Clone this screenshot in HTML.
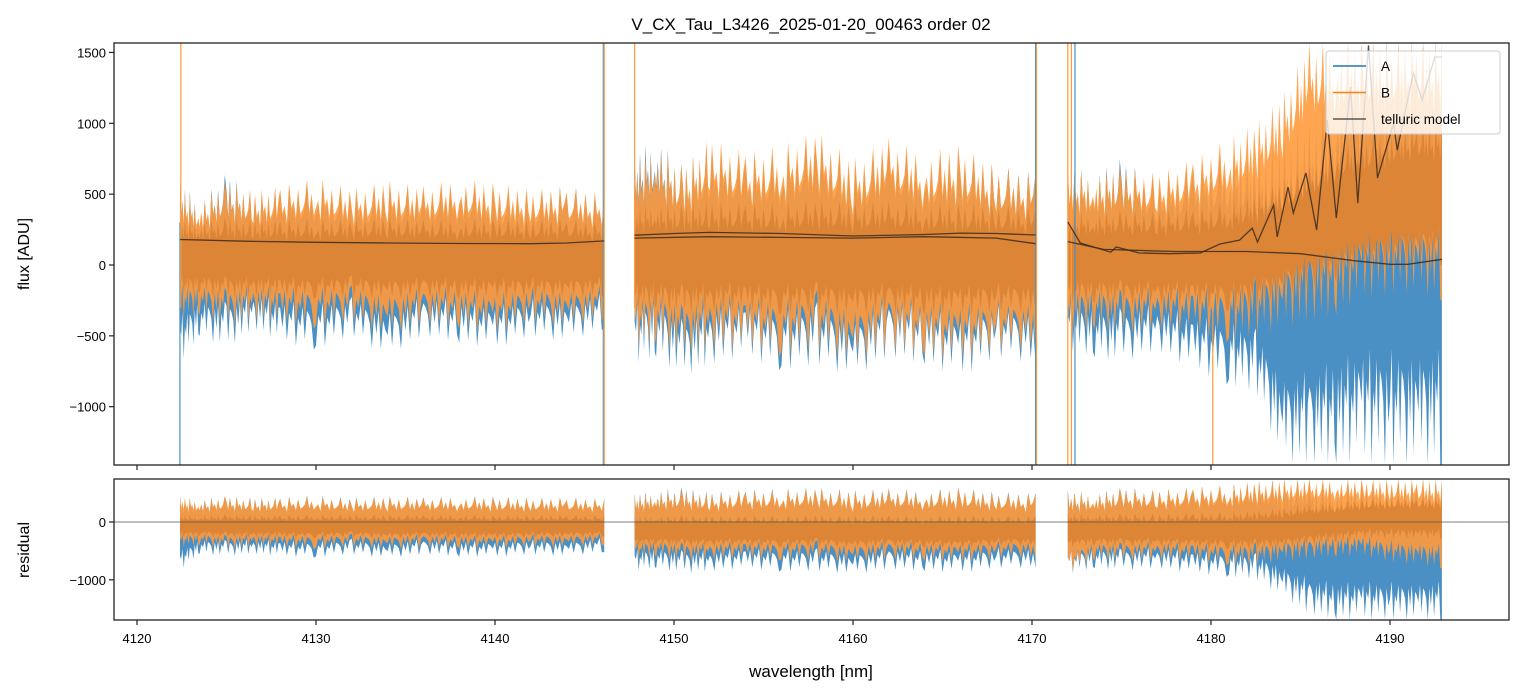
<!DOCTYPE html>
<html><head><meta charset="utf-8">
<style>
html,body{margin:0;padding:0;background:#fff;}
svg{display:block;font-family:"Liberation Sans","DejaVu Sans",sans-serif;}
</style></head>
<body>
<svg id="chart" width="1523" height="696" viewBox="0 0 1523 696" xmlns="http://www.w3.org/2000/svg">
<text x="811" y="30" font-size="17" text-anchor="middle">V_CX_Tau_L3426_2025-01-20_00463  order 02</text>
<g id="top"></g><g id="bot"></g>
<text transform="translate(29,254) rotate(-90)" font-size="16" text-anchor="middle">flux [ADU]</text>
<text transform="translate(29,550) rotate(-90)" font-size="16" text-anchor="middle">residual</text>
<text x="811" y="677" font-size="17" text-anchor="middle">wavelength [nm]</text>
</svg>
<script>
// ---- data ----
const xTicks=[4120,4130,4140,4150,4160,4170,4180,4190];
const yTicksTop=[1500,1000,500,0,-500,-1000];
const yTickLabelsTop=["1500","1000","500","0","\u2212500","\u22121000"];
const yTicksBot=[0,-1000];
const yTickLabelsBot=["0","\u22121000"];
const segWl=[
 [4122.4,4123.5,4125,4126.5,4128,4130,4132,4134,4136,4138,4140,4142,4144,4146.1],
 [4147.8,4149,4150.5,4152,4154,4156,4158,4160,4162,4164,4166,4168,4170.2],
 [4172.0,4173.5,4175,4177,4179,4181,4182.5,4184,4185.5,4187,4188.5,4190,4191.5,4192.9]];
const blueHi=[[600,450,650,500,550,600,500,580,520,600,540,500,560,480],[800,900,700,850,750,800,900,700,850,750,800,700,650],[700,650,750,600,700,800,750,900,1000,1300,1570,1570,1570,1570]];
const blueLo=[[-700,-500,-600,-450,-550,-600,-500,-650,-500,-550,-600,-500,-550,-450],[-700,-650,-800,-700,-650,-750,-700,-800,-650,-700,-800,-650,-700],[-600,-650,-700,-600,-750,-850,-900,-1400,-1400,-1400,-1410,-1410,-1410,-1410]];
const orHi=[[550,450,600,520,560,620,540,600,560,620,580,540,560,500],[750,850,700,900,800,850,950,750,900,800,850,700,650],[700,650,700,650,750,900,1000,1200,1570,1570,1570,1570,1570,1570]];
const orLo=[[-400,-350,-450,-380,-420,-450,-400,-500,-420,-450,-500,-400,-450,-380],[-600,-550,-650,-600,-600,-650,-600,-700,-600,-650,-700,-600,-600],[-500,-450,-500,-450,-500,-550,-500,-450,-400,-350,-250,-200,-200,-250]];
const coreHi=[[330,300,340,320,320,330,320,340,320,330,330,320,330,300],[420,440,430,450,440,440,460,440,450,440,440,430,400],[380,370,390,380,400,450,500,600,700,850,900,950,1000,1000]];
const coreLo=[[-230,-200,-240,-220,-230,-240,-220,-250,-230,-240,-250,-230,-240,-220],[-330,-310,-350,-330,-330,-350,-330,-360,-330,-350,-360,-330,-330],[-280,-270,-290,-280,-300,-330,-300,-240,-170,-120,-60,-20,0,0]];
const resBlueHi=[[450,400,450,420,430,460,420,450,430,450,440,420,430,400],[500,550,600,520,560,580,600,550,580,560,600,520,500],[550,500,600,550,600,650,700,740,740,740,740,740,740,740]];
const resBlueLo=[[-850,-550,-600,-550,-600,-620,-560,-640,-560,-600,-620,-560,-600,-520],[-850,-800,-900,-850,-820,-860,-850,-920,-820,-850,-900,-800,-800],[-900,-800,-850,-800,-900,-950,-1000,-1300,-1600,-1690,-1690,-1690,-1690,-1690]];
const resOrHi=[[450,380,450,400,420,450,400,440,420,440,430,410,420,390],[480,520,560,500,540,560,580,530,560,540,580,500,480],[550,500,580,550,600,650,700,740,740,740,740,740,740,740]];
const resOrLo=[[-450,-400,-480,-420,-450,-470,-430,-480,-440,-460,-480,-430,-450,-400],[-650,-600,-700,-650,-650,-670,-650,-720,-650,-670,-720,-630,-630],[-900,-650,-700,-650,-700,-750,-750,-700,-650,-600,-600,-700,-750,-800]];
const resCoreHi=[[120,110,130,120,120,130,120,130,120,130,120,120,120,110],[100,110,120,110,110,120,120,110,120,110,120,110,100],[150,140,150,140,160,180,200,250,300,350,400,420,420,420]];
const resCoreLo=[[-270,-240,-280,-260,-270,-280,-260,-290,-270,-280,-290,-270,-270,-250],[-420,-390,-440,-420,-420,-440,-420,-460,-420,-440,-460,-410,-410],[-450,-400,-430,-410,-450,-470,-470,-450,-400,-350,-300,-300,-300,-300]];
const modelWl=[[4122.4,4126,4130,4134,4138,4142,4144,4146.1],[4147.8,4150,4152,4156,4160,4164,4166,4168,4170.2]];
const modelVal=[[180,168,160,155,152,150,155,170],[210,222,230,222,205,215,225,222,212]];
const model2Wl=[4147.8,4152,4156,4160,4164,4168,4170.2];
const model2Val=[190,200,195,190,200,190,150];
const model3Wl=[4172.0,4172.7,4174.4,4174.7,4176.0,4177.7,4179.4,4180.5,4181.6,4182.3,4182.6,4183.5,4183.7,4184.3,4184.6,4185.3,4185.9,4186.5,4187.0,4187.8,4188.2,4188.8,4189.3,4190.2,4190.4,4191.3,4191.8,4192.5,4192.9];
const model3Val=[303,155,90,127,85,80,85,148,176,260,162,423,198,550,367,650,247,1023,332,1256,437,1550,614,1002,811,1355,1164,1468,1468];
const model4Wl=[4172.0,4174,4178,4182,4185,4188,4190,4191,4192.9];
const model4Val=[165,110,95,95,80,30,5,5,40];
const spikeWl=[4122.4,4122.45,4146.05,4146.1,4147.8,4170.2,4170.25,4172.0,4172.2,4172.4,4180.1];
const spikeLo=[-1410,-300,-1410,-1410,-300,-1410,-1410,-1410,-1410,-1410,-1410];
const spikeHi=[300,1570,1570,1570,1570,1570,1570,1570,1570,1570,-200];
const spikeSer=["A","B","A","B","B","A","B","B","B","A","B"];
// ---- axes ----
const X0=114,X1=1509;
const xs=w=>137+(w-4120)*17.9;
const topT=43,topB=465,botT=479,botB=620;
const ysT=v=>265-v*0.1417;
const ysB=v=>522-v*0.0578;
const NS="http://www.w3.org/2000/svg";
function mk(tag,attrs,parent){const e=document.createElementNS(NS,tag);for(const k in attrs)e.setAttribute(k,attrs[k]);parent.appendChild(e);return e;}
const svg=document.getElementById('chart');
const gT=document.getElementById('top'),gB=document.getElementById('bot');
function clip(id,t,b){const d=mk('defs',{},svg);const c=mk('clipPath',{id:id},d);mk('rect',{x:X0,y:t,width:X1-X0,height:b-t},c);}
clip('ct',topT,topB);clip('cb',botT,botB);
const pT=mk('g',{'clip-path':'url(#ct)'},gT);


const pB=mk('g',{'clip-path':'url(#cb)'},gB);


const spikePat=[1,0.55,0.8,0.5,0.95,0.6,0.7,0.45,1,0.65,0.75,0.5,0.9,0.55,0.6,0.7];
function jag(wl,hi,lo,ys){
  let up=[],dn=[];
  for(let i=0;i<wl.length-1;i++){
    const n=16;
    for(let k=0;k<n;k++){
      const f=k/n,w=wl[i]+(wl[i+1]-wl[i])*f;
      const h=hi[i]+(hi[i+1]-hi[i])*f,l=lo[i]+(lo[i+1]-lo[i])*f;
      const mid=(h+l)/2;
      up.push([xs(w),ys(mid+(h-mid)*spikePat[(k+i)%16])]);
      dn.push([xs(w),ys(mid+(l-mid)*spikePat[(k+i*3+5)%16])]);
    }
  }
  const L=wl.length-1;up.push([xs(wl[L]),ys(hi[L])]);dn.push([xs(wl[L]),ys(lo[L])]);
  return 'M'+up.map(p=>p[0].toFixed(1)+','+p[1].toFixed(1)).join('L')+'L'+dn.reverse().map(p=>p[0].toFixed(1)+','+p[1].toFixed(1)).join('L')+'Z';
}
function line(wl,v,ys){return 'M'+wl.map((w,i)=>xs(w).toFixed(1)+','+ys(v[i]).toFixed(1)).join('L');}
for(let s=0;s<3;s++){
  let e;
  e=mk('path',{d:jag(segWl[s],blueHi[s],blueLo[s],ysT),fill:'#4a90c4'},pT);
  
  
  e=mk('path',{d:jag(segWl[s],orHi[s],orLo[s],ysT),fill:'#ff9a3c',opacity:'0.9'},pT);
  
  
  e=mk('path',{d:jag(segWl[s],coreHi[s],coreLo[s],ysT),fill:'#dd8536'},pT);
  
  
  e=mk('path',{d:jag(segWl[s],resBlueHi[s],resBlueLo[s],ysB),fill:'#4a90c4'},pB);
  
  
  e=mk('path',{d:jag(segWl[s],resOrHi[s],resOrLo[s],ysB),fill:'#ff9a3c',opacity:'0.9'},pB);
  
  
  e=mk('path',{d:jag(segWl[s],resCoreHi[s],resCoreLo[s],ysB),fill:'#dd8536'},pB);
  
  
}
for(let i=0;i<spikeWl.length;i++){
  const e=mk('line',{x1:xs(spikeWl[i]),x2:xs(spikeWl[i]),y1:ysT(spikeLo[i]),y2:ysT(spikeHi[i]),stroke:spikeSer[i]==='A'?'#4a90c4':'#ff9a3c','stroke-width':1.2},pT);
  
  
}
const mstyle={fill:'none',stroke:'#3a2a1e','stroke-width':1.3,opacity:'0.85'};
const models=[[modelWl[0],modelVal[0]],[modelWl[1],modelVal[1]],[model2Wl,model2Val],[model3Wl,model3Val],[model4Wl,model4Val]];
models.forEach(m=>{const e=mk('path',Object.assign({d:line(m[0],m[1],ysT)},mstyle),pT);
  
  });
let zl=mk('line',{x1:X0,x2:X1,y1:ysB(0),y2:ysB(0),stroke:'#555','stroke-width':0.8},pB);


[[gT,topT,topB],[gB,botT,botB]].forEach(([g,t,b],j)=>{
  const r=mk('rect',{x:X0,y:t,width:X1-X0,height:b-t,fill:'none',stroke:'#222','stroke-width':1.3},g);
  
  
  xTicks.forEach(v=>{const tk=mk('line',{x1:xs(v),x2:xs(v),y1:b,y2:b+5,stroke:'#222','stroke-width':1.2},g);
    
    });
});
xTicks.forEach(v=>{const t=mk('text',{x:xs(v),y:643,'font-size':13,'text-anchor':'middle'},gB);t.textContent=v;
  
  });
yTicksTop.forEach((v,i)=>{mk('line',{x1:X0-5,x2:X0,y1:ysT(v),y2:ysT(v),stroke:'#222','stroke-width':1.2},gT);
  const t=mk('text',{x:X0-8,y:ysT(v)+5,'font-size':13,'text-anchor':'end'},gT);t.textContent=yTickLabelsTop[i];
  
  });
yTicksBot.forEach((v,i)=>{mk('line',{x1:X0-5,x2:X0,y1:ysB(v),y2:ysB(v),stroke:'#222','stroke-width':1.2},gB);
  const t=mk('text',{x:X0-8,y:ysB(v)+5,'font-size':13,'text-anchor':'end'},gB);t.textContent=yTickLabelsBot[i];
  
  });
const lg=mk('g',{},svg);


mk('rect',{x:1326,y:51,width:174,height:83,rx:3,fill:'#fff','fill-opacity':'0.8',stroke:'#ccc'},lg);
const legItems=[['A','#1f77b4',1],['B','#ff7f0e',1],['telluric model','#333',0.8]];
legItems.forEach((it,i)=>{const y=66+i*26.5;
  const l=mk('line',{x1:1333,x2:1366,y1:y,y2:y,stroke:it[1],'stroke-width':1.6,opacity:it[2]},lg);
  
  
  const t=mk('text',{x:1381,y:y+5,'font-size':13.5},lg);t.textContent=it[0];
  
  });
</script>
</body></html>
